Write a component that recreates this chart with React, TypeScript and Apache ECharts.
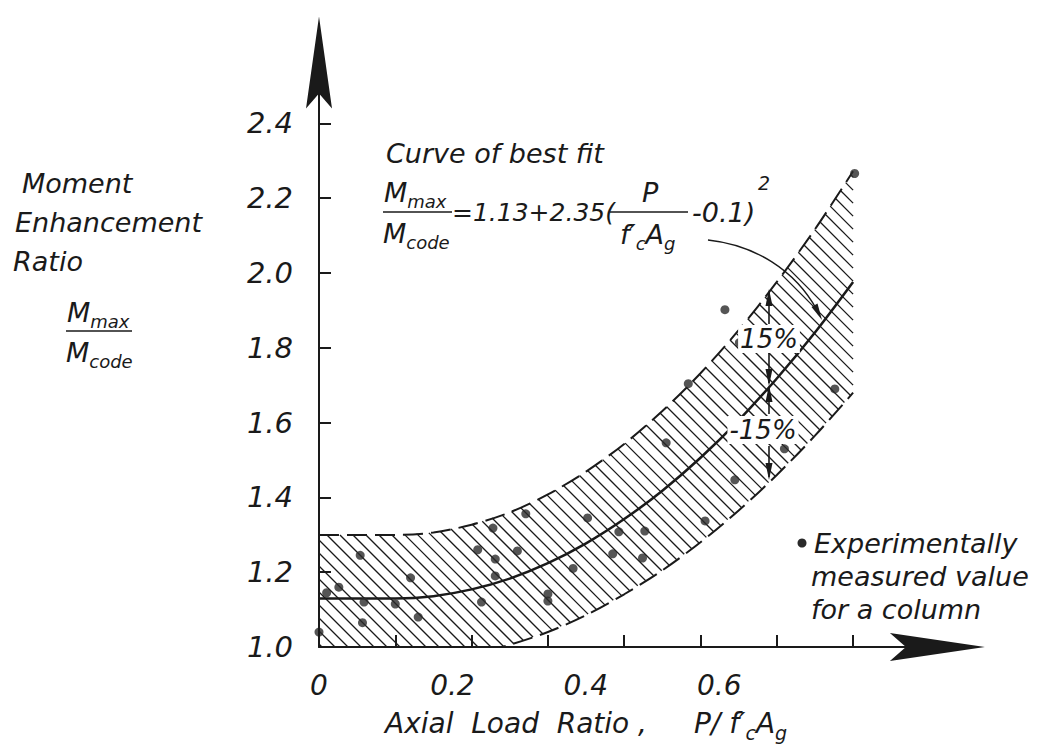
import React, { useEffect, useRef } from "react";
import * as echarts from "echarts";

// ---- data ----
const fitX = [0, 0.05, 0.1, 0.15, 0.2, 0.25, 0.3, 0.35, 0.4, 0.45, 0.5, 0.55, 0.6, 0.65, 0.7];
const fitY = [1.13, 1.13, 1.13, 1.136, 1.154, 1.183, 1.224, 1.277, 1.342, 1.418, 1.506, 1.606, 1.718, 1.841, 1.976];
const upperY = [1.2995, 1.2995, 1.2995, 1.306, 1.327, 1.36, 1.408, 1.469, 1.543, 1.631, 1.732, 1.847, 1.976, 2.117, 2.272];
const lowerY = [0.9605, 0.9605, 0.9605, 0.966, 0.981, 1.006, 1.04, 1.085, 1.141, 1.205, 1.28, 1.365, 1.46, 1.565, 1.68];

const pointX = [0.0, 0.01, 0.026, 0.054, 0.059, 0.057, 0.1, 0.12, 0.13, 0.208, 0.213, 0.228, 0.231, 0.231, 0.26, 0.271, 0.3, 0.3, 0.333, 0.352, 0.385, 0.393, 0.424, 0.427, 0.455, 0.484, 0.506, 0.532, 0.545, 0.551, 0.61, 0.676, 0.702];
const pointY = [1.04, 1.145, 1.16, 1.245, 1.12, 1.065, 1.115, 1.185, 1.08, 1.26, 1.12, 1.318, 1.235, 1.19, 1.257, 1.356, 1.142, 1.123, 1.21, 1.345, 1.249, 1.308, 1.238, 1.31, 1.546, 1.704, 1.337, 1.902, 1.447, 1.814, 1.53, 1.69, 2.266];

const yTicks = [1.0, 1.2, 1.4, 1.6, 1.8, 2.0, 2.2, 2.4];
const xTicks = [0.1, 0.2, 0.3, 0.4, 0.5, 0.6, 0.7];
const xLabels = [0, 0.2, 0.4, 0.6];

const FONT = '"DejaVu Sans", sans-serif';
const INK = "#1a1a1a";
const ARROW_Y = "path://M13,0 L26,92 L13,77 L0,92 Z";
const ARROW_X = "path://M14,0 L28,95 L14,79 L0,95 Z";

const rich = {
  n: { fontSize: 27, fontStyle: "italic", fontFamily: FONT, fill: INK, lineHeight: 36, verticalAlign: "middle" },
  s: { fontSize: 18, fontStyle: "italic", fontFamily: FONT, fill: INK, lineHeight: 36, verticalAlign: "bottom" },
  f: { fontSize: 25, fontStyle: "italic", fontFamily: FONT, fill: INK, lineHeight: 36, verticalAlign: "middle" },
  g: { fontSize: 27, fontStyle: "italic", fontFamily: FONT, fill: INK, lineHeight: 36, verticalAlign: "middle" },
  t: { fontSize: 28, fontStyle: "italic", fontFamily: FONT, fill: INK, lineHeight: 38, verticalAlign: "middle" },
  ts: { fontSize: 19, fontStyle: "italic", fontFamily: FONT, fill: INK, lineHeight: 38, verticalAlign: "bottom" },
};

function txt(text: string, x: number, y: number, size = 27, align = "left", extra: any = {}) {
  return {
    type: "text",
    x,
    y,
    silent: true,
    z: 10,
    style: {
      text,
      font: `italic ${size}px ${FONT}`,
      fill: INK,
      textAlign: align,
      align,
      textVerticalAlign: "middle",
      verticalAlign: "middle",
      rich,
      ...extra,
    },
  };
}

function rline(x1: number, y1: number, x2: number, y2: number, w = 1.6) {
  return { type: "line", silent: true, z: 10, shape: { x1, y1, x2, y2 }, style: { stroke: INK, lineWidth: w } };
}

function head(points: number[][]) {
  return { type: "polygon", silent: true, z: 10, shape: { points }, style: { fill: INK } };
}

// hatch ("\\" lines) clipped to the band between the lower and upper curves
function renderHatch(params: any, api: any) {
  const cs = params.coordSys;
  const bottom = cs.y + cs.height;
  const left = cs.x;
  const poly: number[][] = [];
  for (let i = 0; i < fitX.length; i++) poly.push(api.coord([fitX[i], upperY[i]]));
  for (let i = fitX.length - 1; i >= 0; i--) poly.push(api.coord([fitX[i], lowerY[i]]));
  let cmin = Infinity;
  let cmax = -Infinity;
  poly.forEach((p) => {
    const c = p[0] - p[1];
    cmin = Math.min(cmin, c);
    cmax = Math.max(cmax, c);
  });
  const step = 13;
  const children: any[] = [];
  for (let c = Math.ceil(cmin / step) * step; c <= cmax; c += step) {
    const xs: number[] = [];
    for (let k = 0; k < poly.length; k++) {
      const P = poly[k];
      const Q = poly[(k + 1) % poly.length];
      const fp = P[0] - P[1] - c;
      const fq = Q[0] - Q[1] - c;
      if (fp < 0 !== fq < 0) {
        const t = fp / (fp - fq);
        xs.push(P[0] + t * (Q[0] - P[0]));
      }
    }
    xs.sort((a, b) => a - b);
    for (let k = 0; k + 1 < xs.length; k += 2) {
      const xa = Math.max(xs[k], left);
      const xb = Math.min(xs[k + 1], bottom + c);
      if (xb > xa) {
        children.push({
          type: "line",
          shape: { x1: xa, y1: xa - c, x2: xb, y2: xb - c },
          style: { stroke: INK, lineWidth: 1.3 },
        });
      }
    }
  }
  return { type: "group", children };
}

export default function App() {
  const ref = useRef<HTMLDivElement>(null);
  useEffect(() => {
    document.body.style.margin = "0";
    const chart = echarts.init(ref.current!, null, { renderer: "svg" });
    const graphic: any[] = [
      // y-axis title
      txt("Moment", 22, 183),
      txt("Enhancement", 15, 222),
      txt("Ratio", 13, 261),
      txt("{n|M}{s|max}", 67, 312),
      rline(66, 331, 132, 331),
      txt("{n|M}{s|code}", 66, 352),
      // formula
      txt("Curve of best fit", 386, 153),
      txt("{n|M}{s|max}", 384, 192),
      rline(383, 212, 452, 212),
      txt("{n|M}{s|code}", 383, 233),
      txt("{f|=1.13+2.35(}", 452, 212),
      txt("{n|P}", 642, 192),
      rline(610, 212, 688, 212),
      txt("{n|f′}{s|c}{n|A}{s|g}", 620, 234),
      txt("{g|-0.1)}", 692, 212),
      txt("2", 758, 183, 19),
      // callout
      {
        type: "bezierCurve",
        silent: true,
        z: 10,
        shape: { x1: 708, y1: 240, x2: 817, y2: 310, cpx1: 755, cpy1: 245, cpx2: 795, cpy2: 270 },
        style: { stroke: INK, lineWidth: 1.4, fill: null },
      },
      head([[822, 320], [817.5, 303.5], [811.5, 307]]),
      // +/-15% dimension marks
      rline(769, 292, 769, 324),
      head([[769, 289], [772.5, 306], [765.5, 306]]),
      txt("15%", 769, 339, 26, "center", { backgroundColor: "#fff", padding: [1, 2] }),
      rline(769, 353, 769, 383),
      head([[769, 386], [772.5, 369], [765.5, 369]]),
      rline(769, 387, 769, 414),
      head([[769, 385], [772.5, 402], [765.5, 402]]),
      txt("-15%", 763, 430, 26, "center", { backgroundColor: "#fff", padding: [1, 2] }),
      rline(769, 446, 769, 477),
      head([[769, 480], [772.5, 463], [765.5, 463]]),
      // legend
      { type: "circle", silent: true, z: 10, shape: { cx: 802, cy: 543, r: 4.5 }, style: { fill: "#2a2a2a" } },
      txt("Experimentally", 814, 543),
      txt("measured value", 811, 576),
      txt("for a column", 811, 609),
      // x-axis title
      txt("{t|Axial  Load  Ratio ,}", 385, 723),
      txt("{t|P/ f′}{ts|c}{t|A}{ts|g}", 694, 723),
    ];

    const smooth = 0.3;
    const option: any = {
      animation: false,
      backgroundColor: "#ffffff",
      grid: { left: 319, right: 119.6, top: 48.6, bottom: 100, containLabel: false },
      xAxis: [
        {
          type: "value",
          min: 0,
          max: 0.8,
          interval: 0.1,
          position: "bottom",
          z: 8,
          axisLine: {
            show: true,
            onZero: false,
            lineStyle: { color: INK, width: 2 },
            symbol: ["none", ARROW_X],
            symbolSize: [28, 95],
            symbolOffset: [0, 8],
          },
          axisTick: { show: true, inside: true, length: 12, customValues: xTicks, lineStyle: { color: INK, width: 2 } },
          axisLabel: { show: false },
          splitLine: { show: false },
        },
        {
          type: "value",
          min: 0,
          max: 0.915,
          position: "bottom",
          axisLine: { show: false },
          axisTick: { show: false },
          splitLine: { show: false },
          axisLabel: {
            show: true,
            customValues: xLabels,
            formatter: (v: number) => (v === 0 ? "0" : v.toFixed(1)),
            margin: 24,
            fontSize: 28,
            fontStyle: "italic",
            fontFamily: FONT,
            color: INK,
          },
        },
      ],
      yAxis: {
        type: "value",
        min: 1.0,
        max: 2.6,
        interval: 0.2,
        z: 8,
        axisLine: {
          show: true,
          onZero: false,
          lineStyle: { color: INK, width: 2 },
          symbol: ["none", ARROW_Y],
          symbolSize: [26, 92],
          symbolOffset: [0, -14],
        },
        axisTick: { show: true, inside: true, length: 12, customValues: yTicks, lineStyle: { color: INK, width: 2 } },
        axisLabel: {
          customValues: yTicks,
          formatter: (v: number) => v.toFixed(1),
          margin: 26,
          fontSize: 29,
          fontStyle: "italic",
          fontFamily: FONT,
          color: INK,
        },
        splitLine: { show: false },
      },
      series: [
        {
          type: "custom",
          name: "hatch",
          xAxisIndex: 0,
          yAxisIndex: 0,
          data: [[0, 1]],
          silent: true,
          renderItem: renderHatch,
          z: 1,
        },
        {
          type: "line",
          name: "upper",
          xAxisIndex: 0,
          data: fitX.map((x, i) => [x, upperY[i]]),
          symbol: "none",
          smooth,
          lineStyle: { color: INK, width: 2, type: [20, 8] },
          z: 2,
        },
        {
          type: "line",
          name: "lower",
          xAxisIndex: 0,
          data: fitX.map((x, i) => [x, lowerY[i]]),
          symbol: "none",
          smooth,
          lineStyle: { color: INK, width: 2, type: [20, 8] },
          z: 3,
        },
        {
          type: "line",
          name: "fit",
          xAxisIndex: 0,
          data: fitX.map((x, i) => [x, fitY[i]]),
          symbol: "none",
          smooth,
          lineStyle: { color: INK, width: 2.5 },
          z: 4,
        },
        {
          type: "scatter",
          name: "measured",
          xAxisIndex: 0,
          data: pointX.map((x, i) => [x, pointY[i]]),
          symbol: "circle",
          symbolSize: 9,
          itemStyle: { color: "#2a2a2a" },
          z: 5,
        },
      ],
      graphic,
    };
    chart.setOption(option);
    return () => chart.dispose();
  }, []);
  return <div ref={ref} style={{ width: 1049, height: 747 }} />;
}
